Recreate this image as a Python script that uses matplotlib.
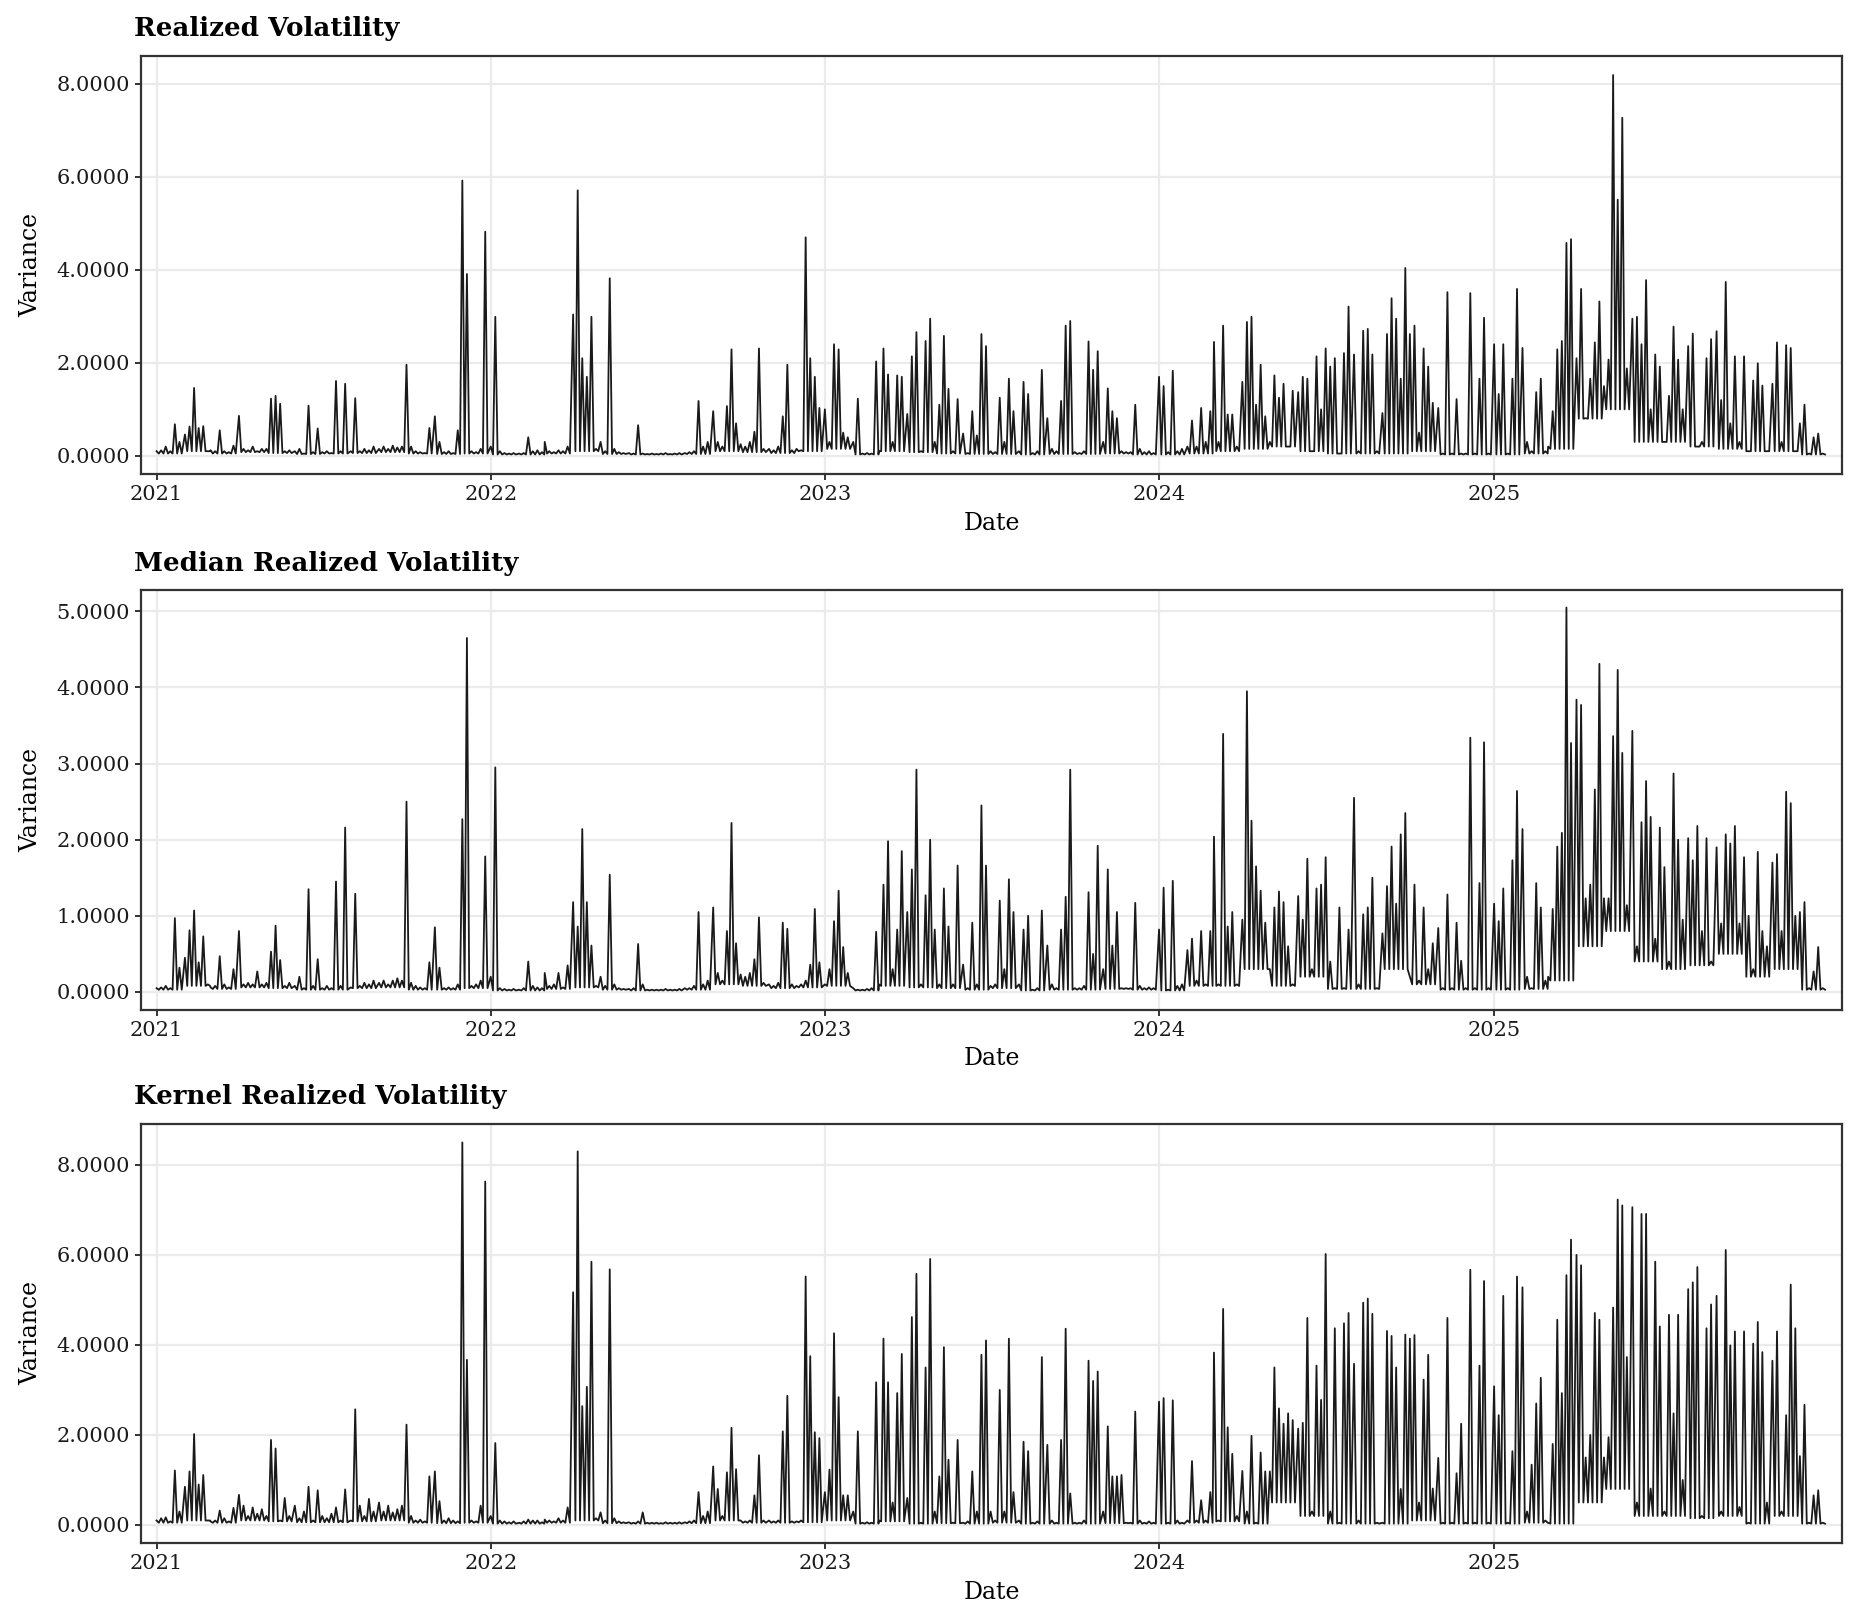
import pandas as pd
import numpy as np
import matplotlib
matplotlib.use("Agg")
import matplotlib.pyplot as plt
import matplotlib.dates as mdates
from matplotlib.ticker import FormatStrFormatter, MultipleLocator, FixedLocator

# ---- Data ----
# peaks sampled on days 1, 6, 11, 16, 21, 26 of each month,
# plus one trough level per month that the series drops back to between peaks
years = [2021, 2022, 2023, 2024, 2025]
sample_days = [1, 6, 11, 16, 21, 26]
dates = [pd.Timestamp(y, m, d) for y in years for m in range(1, 13) for d in sample_days]

# Realized Volatility (two months per row)
rv = [
    0.10, 0.12, 0.20, 0.10, 0.68, 0.30,  0.46, 0.63, 1.46, 0.60, 0.64, 0.10,
    0.12, 0.10, 0.55, 0.10, 0.08, 0.22,  0.86, 0.15, 0.12, 0.20, 0.10, 0.15,
    0.15, 1.23, 1.29, 1.12, 0.10, 0.12,  0.10, 0.15, 0.05, 1.08, 0.08, 0.59,
    0.08, 0.10, 0.06, 1.61, 0.10, 1.55,  0.10, 1.24, 0.10, 0.15, 0.12, 0.20,
    0.15, 0.20, 0.15, 0.22, 0.18, 0.20,  1.96, 0.20, 0.10, 0.08, 0.06, 0.60,
    0.85, 0.30, 0.08, 0.10, 0.06, 0.55,  5.92, 3.91, 0.10, 0.08, 0.15, 4.82,
    # 2022
    0.20, 2.99, 0.10, 0.06, 0.05, 0.06,  0.05, 0.06, 0.40, 0.10, 0.12, 0.08,
    0.30, 0.10, 0.08, 0.12, 0.10, 0.20,  3.04, 5.71, 2.10, 1.70, 2.99, 0.15,
    0.30, 0.10, 3.82, 0.15, 0.08, 0.06,  0.06, 0.05, 0.66, 0.05, 0.04, 0.05,
    0.04, 0.05, 0.06, 0.04, 0.05, 0.06,  0.06, 0.08, 0.10, 1.18, 0.20, 0.30,
    0.96, 0.30, 0.20, 1.07, 2.29, 0.70,  0.25, 0.20, 0.30, 0.52, 2.31, 0.15,
    0.15, 0.12, 0.20, 0.85, 1.96, 0.12,  0.15, 0.12, 4.70, 2.10, 1.70, 1.03,
    # 2023
    1.00, 0.30, 2.40, 2.29, 0.50, 0.40,  0.30, 1.23, 0.05, 0.06, 0.05, 2.03,
    0.10, 2.31, 1.75, 0.30, 1.73, 1.70,  0.90, 2.14, 2.66, 0.10, 2.47, 2.95,
    0.30, 1.10, 2.58, 1.44, 0.10, 1.22,  0.48, 0.06, 0.96, 0.44, 2.62, 2.36,
    0.10, 0.08, 1.25, 0.30, 1.66, 0.96,  0.10, 1.59, 1.33, 0.06, 0.10, 1.85,
    0.81, 0.15, 0.10, 1.18, 2.80, 2.90,  0.08, 0.06, 0.10, 2.46, 1.85, 2.25,
    0.30, 1.45, 0.96, 0.81, 0.10, 0.08,  0.08, 1.10, 0.15, 0.08, 0.10, 0.06,
    # 2024
    1.70, 1.50, 0.08, 1.83, 0.10, 0.15,  0.20, 0.76, 0.20, 1.03, 0.30, 0.96,
    2.45, 0.30, 2.80, 0.89, 0.89, 0.20,  1.59, 2.88, 2.99, 1.10, 1.96, 0.85,
    0.30, 1.73, 1.25, 1.55, 0.20, 1.40,  1.37, 1.70, 1.66, 0.10, 2.14, 1.00,
    2.31, 1.92, 2.10, 0.05, 2.21, 3.21,  2.18, 0.10, 2.69, 2.73, 2.18, 0.10,
    0.92, 2.62, 3.39, 2.95, 1.66, 4.04,  2.62, 2.80, 0.50, 2.31, 1.92, 1.14,
    1.03, 0.05, 3.52, 0.05, 1.22, 0.05,  0.05, 3.50, 0.05, 1.66, 2.97, 0.05,
    # 2025
    2.40, 1.33, 2.40, 0.05, 1.66, 3.59,  2.32, 0.30, 0.10, 1.37, 1.66, 0.10,
    0.20, 0.96, 2.29, 2.47, 4.58, 4.66,  2.10, 3.59, 0.81, 1.66, 2.44, 3.32,
    1.50, 2.07, 8.19, 5.51, 7.27, 1.88,  2.95, 2.99, 2.40, 3.78, 1.00, 2.18,
    1.92, 0.30, 1.29, 2.78, 2.07, 1.00,  2.36, 2.63, 0.20, 0.30, 2.10, 2.51,
    2.68, 1.20, 3.74, 0.70, 2.14, 0.30,  2.14, 0.10, 1.62, 1.99, 1.51, 0.10,
    1.55, 2.44, 0.30, 2.38, 2.32, 0.10,  0.70, 1.10, 0.05, 0.40, 0.48, 0.05,
]
rv_trough = [
    0.05, 0.10, 0.05, 0.08, 0.06, 0.04, 0.05, 0.06, 0.08, 0.05, 0.04, 0.05,
    0.03, 0.03, 0.05, 0.10, 0.04, 0.03, 0.03, 0.04, 0.10, 0.08, 0.06, 0.10,
    0.15, 0.03, 0.10, 0.08, 0.05, 0.04, 0.04, 0.03, 0.04, 0.04, 0.05, 0.03,
    0.03, 0.05, 0.10, 0.15, 0.20, 0.10, 0.05, 0.05, 0.05, 0.10, 0.03, 0.03,
    0.03, 0.05, 0.15, 0.80, 1.00, 0.30, 0.30, 0.20, 0.15, 0.10, 0.10, 0.03,
]

# Median Realized Volatility
medrv = [
    0.05, 0.06, 0.08, 0.05, 0.97, 0.32,  0.45, 0.81, 1.07, 0.39, 0.73, 0.10,
    0.06, 0.08, 0.47, 0.10, 0.06, 0.30,  0.80, 0.10, 0.12, 0.10, 0.27, 0.10,
    0.12, 0.53, 0.87, 0.42, 0.08, 0.12,  0.08, 0.20, 0.05, 1.35, 0.08, 0.43,
    0.05, 0.08, 0.05, 1.45, 0.08, 2.16,  0.06, 1.29, 0.08, 0.12, 0.10, 0.15,
    0.12, 0.15, 0.10, 0.15, 0.18, 0.15,  2.50, 0.12, 0.08, 0.06, 0.05, 0.39,
    0.85, 0.32, 0.05, 0.06, 0.05, 0.10,  2.27, 4.65, 0.08, 0.10, 0.15, 1.78,
    # 2022
    0.20, 2.95, 0.05, 0.04, 0.03, 0.04,  0.03, 0.05, 0.40, 0.08, 0.06, 0.05,
    0.25, 0.08, 0.10, 0.25, 0.06, 0.35,  1.18, 0.86, 2.14, 1.18, 0.61, 0.08,
    0.20, 0.08, 1.54, 0.10, 0.05, 0.04,  0.04, 0.05, 0.63, 0.10, 0.03, 0.03,
    0.03, 0.03, 0.04, 0.03, 0.03, 0.04,  0.05, 0.05, 0.08, 1.05, 0.10, 0.15,
    1.11, 0.25, 0.15, 0.80, 2.22, 0.64,  0.23, 0.20, 0.25, 0.43, 0.98, 0.12,
    0.10, 0.08, 0.12, 0.91, 0.83, 0.10,  0.08, 0.10, 0.15, 0.36, 1.09, 0.39,
    # 2023
    0.10, 0.30, 0.93, 1.33, 0.59, 0.25,  0.05, 0.03, 0.03, 0.04, 0.05, 0.79,
    0.10, 1.41, 1.98, 0.30, 0.82, 1.85,  1.05, 1.61, 2.92, 0.10, 1.27, 2.00,
    0.82, 0.10, 1.36, 0.86, 0.10, 1.66,  0.36, 0.05, 0.91, 0.10, 2.45, 1.66,
    0.08, 0.10, 1.20, 0.30, 1.48, 1.05,  0.10, 0.82, 1.00, 0.03, 0.05, 1.07,
    0.61, 0.10, 0.05, 0.82, 1.25, 2.92,  0.05, 0.05, 0.08, 1.31, 0.50, 1.92,
    0.30, 1.61, 0.61, 1.05, 0.05, 0.05,  0.05, 1.17, 0.08, 0.05, 0.06, 0.05,
    # 2024
    0.82, 1.37, 0.03, 1.46, 0.08, 0.10,  0.55, 0.70, 0.15, 0.80, 0.10, 0.80,
    2.04, 0.10, 3.39, 0.86, 1.05, 0.10,  0.95, 3.95, 2.25, 1.65, 1.33, 0.91,
    0.30, 1.11, 1.32, 1.18, 0.60, 0.10,  1.26, 0.95, 1.75, 0.30, 1.36, 1.41,
    1.77, 0.40, 0.05, 1.11, 0.05, 0.82,  2.55, 0.10, 1.02, 1.11, 1.50, 0.05,
    0.77, 1.39, 1.91, 1.16, 2.07, 2.35,  0.20, 1.41, 0.15, 1.11, 0.30, 0.64,
    0.84, 0.05, 1.28, 0.05, 0.91, 0.41,  0.05, 3.34, 0.05, 1.43, 3.28, 0.05,
    # 2025
    1.16, 0.93, 1.36, 0.05, 1.73, 2.64,  2.14, 0.20, 0.05, 1.43, 1.11, 0.15,
    0.20, 1.09, 1.91, 2.09, 5.05, 3.27,  3.84, 3.77, 1.23, 1.41, 2.66, 4.31,
    1.23, 1.23, 3.36, 4.23, 3.14, 1.14,  3.43, 0.60, 2.23, 2.77, 2.30, 0.70,
    2.16, 1.64, 0.40, 2.87, 2.00, 0.95,  2.02, 1.73, 2.18, 0.80, 2.02, 0.40,
    1.90, 0.90, 2.07, 1.95, 2.18, 0.90,  1.77, 1.00, 0.30, 1.84, 0.80, 0.60,
    1.70, 1.81, 0.80, 2.63, 2.48, 1.00,  1.05, 1.18, 0.05, 0.27, 0.59, 0.05,
]
medrv_trough = [
    0.03, 0.08, 0.04, 0.06, 0.05, 0.03, 0.03, 0.05, 0.06, 0.03, 0.03, 0.05,
    0.02, 0.02, 0.04, 0.06, 0.03, 0.02, 0.02, 0.03, 0.10, 0.08, 0.05, 0.06,
    0.08, 0.02, 0.08, 0.06, 0.05, 0.03, 0.05, 0.02, 0.03, 0.03, 0.04, 0.03,
    0.02, 0.08, 0.08, 0.30, 0.08, 0.20, 0.04, 0.04, 0.30, 0.10, 0.03, 0.03,
    0.03, 0.04, 0.15, 0.60, 0.80, 0.40, 0.30, 0.35, 0.50, 0.20, 0.30, 0.03,
]

# Kernel Realized Volatility
krv = [
    0.10, 0.15, 0.17, 0.08, 1.21, 0.30,  0.85, 1.19, 2.02, 0.90, 1.11, 0.10,
    0.08, 0.10, 0.32, 0.15, 0.08, 0.38,  0.67, 0.43, 0.20, 0.39, 0.25, 0.35,
    0.20, 1.89, 1.70, 0.10, 0.60, 0.20,  0.43, 0.15, 0.30, 0.85, 0.10, 0.77,
    0.20, 0.15, 0.25, 0.39, 0.10, 0.79,  0.10, 2.57, 0.43, 0.20, 0.58, 0.30,
    0.50, 0.30, 0.43, 0.28, 0.35, 0.43,  2.23, 0.20, 0.10, 0.12, 0.08, 1.08,
    1.19, 0.53, 0.10, 0.15, 0.10, 0.08,  8.50, 3.67, 0.10, 0.08, 0.43, 7.63,
    # 2022
    0.20, 1.82, 0.10, 0.08, 0.06, 0.08,  0.05, 0.08, 0.12, 0.10, 0.10, 0.06,
    0.12, 0.10, 0.08, 0.15, 0.10, 0.39,  5.17, 8.30, 2.64, 3.07, 5.85, 0.15,
    0.28, 0.10, 5.68, 0.15, 0.08, 0.06,  0.06, 0.05, 0.08, 0.28, 0.05, 0.05,
    0.05, 0.04, 0.06, 0.05, 0.05, 0.06,  0.06, 0.08, 0.10, 0.73, 0.20, 0.30,
    1.30, 0.80, 0.20, 1.17, 2.16, 1.24,  0.10, 0.08, 0.10, 0.66, 1.55, 0.10,
    0.10, 0.08, 0.10, 2.08, 2.87, 0.08,  0.08, 0.10, 5.52, 3.75, 2.06, 1.93,
    # 2023
    0.73, 1.23, 4.26, 2.84, 0.66, 0.66,  0.30, 2.08, 0.05, 0.06, 0.05, 3.17,
    0.10, 4.14, 3.17, 0.50, 2.93, 3.80,  0.60, 4.62, 5.58, 0.05, 3.50, 5.91,
    0.30, 1.08, 3.95, 1.45, 0.05, 1.89,  0.05, 0.08, 1.19, 0.30, 3.78, 4.10,
    0.30, 0.10, 3.00, 0.30, 4.14, 0.73,  0.10, 1.85, 1.64, 0.05, 0.08, 3.73,
    1.78, 0.10, 0.05, 1.89, 4.36, 0.70,  0.05, 0.05, 0.10, 3.65, 3.20, 3.41,
    0.30, 2.19, 1.08, 1.08, 1.11, 0.05,  0.05, 2.52, 0.10, 0.05, 0.08, 0.05,
    # 2024
    2.74, 2.82, 0.05, 2.77, 0.10, 0.05,  0.10, 1.42, 0.10, 0.55, 0.10, 0.73,
    3.83, 0.10, 4.80, 2.17, 1.58, 0.20,  1.20, 0.30, 1.98, 0.05, 1.61, 1.19,
    1.19, 3.50, 2.59, 2.25, 2.48, 2.33,  2.14, 2.27, 4.60, 0.30, 3.54, 2.78,
    6.02, 0.30, 4.37, 0.05, 4.48, 4.71,  3.58, 0.10, 4.94, 5.03, 4.69, 0.05,
    0.05, 4.31, 4.20, 3.50, 0.80, 4.23,  4.14, 4.22, 0.50, 3.23, 3.78, 0.81,
    1.49, 0.05, 4.60, 0.05, 1.15, 2.25,  0.05, 5.67, 0.05, 3.54, 5.42, 0.05,
    # 2025
    3.08, 2.44, 5.09, 0.05, 1.64, 5.52,  5.28, 0.30, 1.34, 2.70, 3.27, 0.10,
    0.05, 1.80, 4.56, 2.93, 5.55, 6.34,  6.00, 5.77, 1.50, 2.00, 4.71, 4.56,
    1.50, 1.95, 4.83, 7.23, 7.10, 3.73,  7.06, 0.50, 6.91, 6.91, 0.81, 5.85,
    4.41, 0.30, 4.67, 2.48, 4.67, 1.00,  5.24, 5.39, 5.73, 0.20, 4.37, 4.90,
    5.09, 0.30, 6.11, 3.99, 4.30, 0.40,  4.30, 0.05, 4.03, 4.51, 3.84, 0.50,
    3.65, 4.30, 0.30, 2.44, 5.34, 4.37,  1.53, 2.67, 0.05, 0.66, 0.77, 0.05,
]
krv_trough = [
    0.05, 0.10, 0.05, 0.10, 0.08, 0.06, 0.06, 0.08, 0.10, 0.05, 0.04, 0.05,
    0.03, 0.03, 0.05, 0.10, 0.04, 0.03, 0.03, 0.04, 0.10, 0.05, 0.05, 0.06,
    0.10, 0.03, 0.08, 0.03, 0.04, 0.03, 0.05, 0.03, 0.03, 0.03, 0.04, 0.03,
    0.03, 0.05, 0.08, 0.03, 0.50, 0.20, 0.03, 0.03, 0.03, 0.10, 0.03, 0.03,
    0.03, 0.05, 0.03, 0.50, 0.80, 0.20, 0.20, 0.15, 0.20, 0.03, 0.20, 0.03,
]

titles = ["Realized Volatility", "Median Realized Volatility", "Kernel Realized Volatility"]
series = [(rv, rv_trough), (medrv, medrv_trough), (krv, krv_trough)]
y_limits = [(-0.39, 8.61), (-0.23, 5.28), (-0.40, 8.92)]
y_steps = [2, 1, 2]
year_ticks = [pd.Timestamp(y, 1, 1) for y in years]

# peak, then trough half way to the next sample
trough_dates = [d + pd.Timedelta(hours=60) for d in dates]
x_all = [t for pair in zip(dates, trough_dates) for t in pair]

# ---- Plotting ----
plt.rcParams['font.family'] = ['DejaVu Serif']

W, H = 1858, 1614
fig = plt.figure(figsize=(W / 200, H / 200), dpi=200)

# axes boxes in pixels: (top, bottom)
boxes = [(55.5, 474), (590, 1009.5), (1123.5, 1543)]
left_px, right_px = 141, 1842

for (top, bot), title, (peaks, trough), ylim, step in zip(boxes, titles, series, y_limits, y_steps):
    ax = fig.add_axes([left_px / W, 1 - bot / H, (right_px - left_px) / W, (bot - top) / H])
    lows = np.repeat(trough, len(sample_days))
    y_all = [v for pair in zip(peaks, lows) for v in pair]
    ax.plot(x_all, y_all, color='#1a1a1a', lw=0.65)

    ax.set_xlim(pd.Timestamp('2020-12-15'), pd.Timestamp('2026-01-16'))
    ax.set_ylim(*ylim)
    ax.xaxis.set_major_locator(FixedLocator(mdates.date2num(year_ticks)))
    ax.xaxis.set_major_formatter(mdates.DateFormatter('%Y'))
    ax.yaxis.set_major_locator(MultipleLocator(step))
    ax.yaxis.set_major_formatter(FormatStrFormatter('%.4f'))

    ax.grid(True, color='#EBEBEB', lw=0.8)
    ax.set_axisbelow(True)
    for sp in ax.spines.values():
        sp.set_color('#333333')
        sp.set_linewidth(0.8)
    ax.tick_params(direction='out', length=2.2, width=0.7, color='#333333',
                   labelsize=7.5, labelcolor='#1a1a1a', pad=1.8)

    ax.set_title(title, loc='left', x=-0.004, fontsize=9.4, fontweight='bold', pad=7)
    ax.set_xlabel('Date', fontsize=8.5, labelpad=2.8)
    ax.set_ylabel('Variance', fontsize=8.5, labelpad=5)

fig.savefig('out.png', dpi=200)
